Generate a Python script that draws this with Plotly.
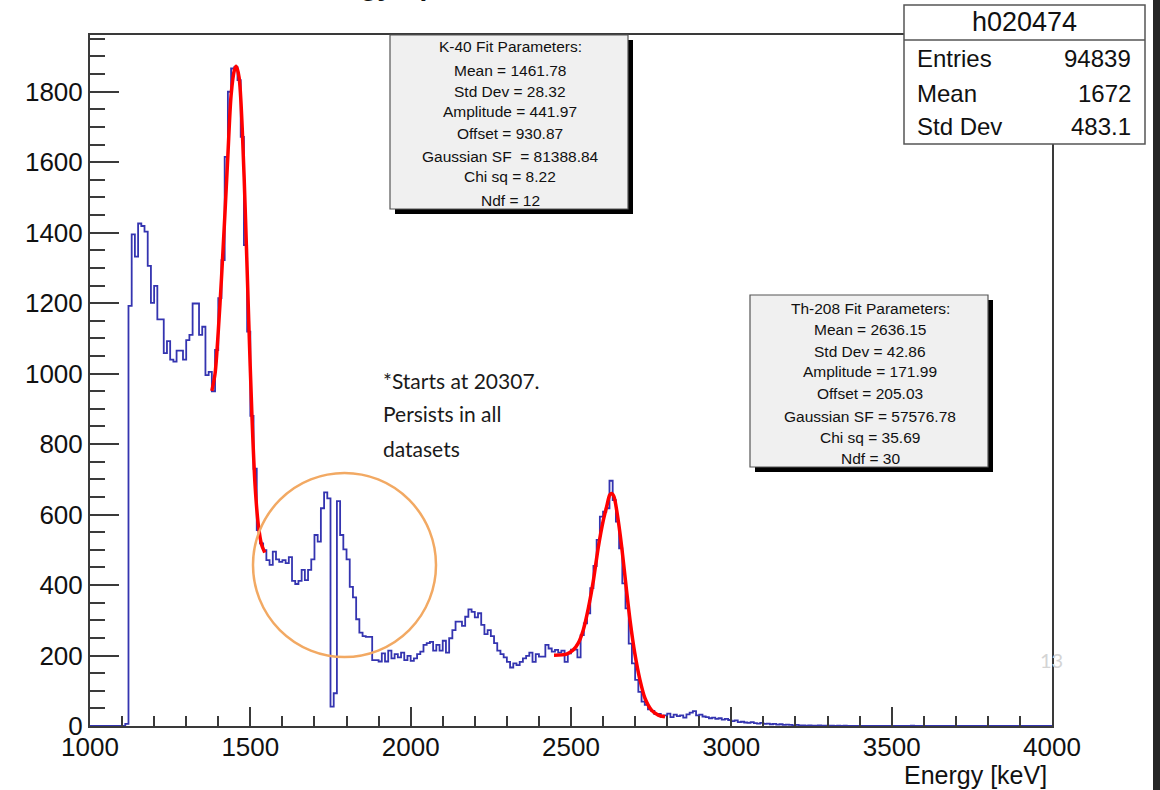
import plotly.graph_objects as go

# ---------------- data ----------------
BIN_START = 1000   # keV
BIN_WIDTH = 10     # keV

counts_1000_1490 = [0, 0, 0, 0, 0, 0, 0, 0, 0, 0, 0, 6,
                    1192, 1395, 1332, 1426, 1419, 1403, 1306, 1201, 1249, 1154,
                    1154, 1058, 1092, 1040, 1034, 1065, 1065, 1040, 1095, 1110,
                    1199, 1199, 1110, 1133, 996, 1005, 950, 1067, 1214, 1322,
                    1615, 1800, 1866, 1870, 1833, 1672, 1365, 1119]
counts_1500_1990 = [880, 730, 556, 518, 499, 471, 457, 495, 473, 466,
                    471, 462, 479, 412, 403, 412, 443, 414, 443, 473,
                    542, 523, 618, 663, 646, 55, 93, 638, 542, 501,
                    473, 395, 365, 303, 265, 255, 253, 253, 187, 187,
                    183, 206, 183, 214, 192, 204, 195, 208, 187, 199]
counts_2000_2490 = [185, 192, 204, 211, 230, 235, 239, 214, 230, 214,
                    242, 208, 249, 272, 296, 296, 284, 310, 331, 324,
                    308, 320, 287, 261, 272, 255, 235, 214, 204, 195,
                    182, 166, 178, 173, 182, 192, 199, 208, 182, 204,
                    197, 197, 230, 220, 211, 216, 208, 214, 182, 206]
counts_2500_2990 = [217, 217, 195, 258, 291, 320, 391, 454, 528, 594,
                    608, 618, 696, 641, 580, 504, 405, 334, 234, 178,
                    131, 97, 69, 60, 47, 43, 34, 34, 26, 30,
                    35, 25, 32, 28, 30, 24, 33, 38, 42, 30,
                    32, 27, 25, 22, 24, 20, 22, 18, 20, 17]
counts_3000_3490 = [14, 16, 11, 12, 10, 9, 11, 8, 7, 9,
                    6, 7, 5, 6, 4, 5, 3, 4, 3, 2,
                    3, 2, 2, 1, 2, 1, 1, 2, 1, 1,
                    1, 1, 0, 1, 0, 1, 0, 0, 0, 0,
                    0, 0, 0, 0, 0, 0, 0, 0, 0, 0]
counts_3500_3990 = [0, 0, 0, 0, 0, 0, 1, 0, 0, 0,
                    0, 0, 0, 0, 0, 0, 0, 0, 0, 0,
                    0, 0, 0, 0, 0, 0, 0, 0, 0, 0,
                    0, 0, 0, 0, 0, 0, 0, 0, 0, 0,
                    0, 0, 0, 0, 0, 0, 0, 0, 0, 0]

# fit curves
k40_fit_x = [1380, 1390, 1400, 1410, 1420, 1430, 1440, 1450, 1456, 1465,
             1475, 1485, 1495, 1505, 1515, 1525, 1535, 1545]
k40_fit_y = [951, 1000, 1120, 1270, 1440, 1620, 1790, 1860, 1872, 1840,
             1690, 1440, 1150, 880, 680, 570, 515, 492]
th208_fit_x = [2447, 2486, 2507, 2523, 2538, 2554, 2570, 2585, 2601, 2611,
               2621, 2627, 2634, 2644, 2658, 2673, 2684, 2699, 2715, 2731,
               2751, 2772, 2793]
th208_fit_y = [201, 204, 216, 236, 272, 334, 414, 507, 585, 622,
               656, 660, 651, 603, 509, 386, 301, 206, 131, 78,
               45, 31, 26]

stats_title = "h020474"
stats_rows = [("Entries", "94839"), ("Mean", "1672"), ("Std Dev", "483.1")]
k40_lines = ["K-40 Fit Parameters:", "Mean = 1461.78", "Std Dev = 28.32",
             "Amplitude = 441.97", "Offset = 930.87", "Gaussian SF  = 81388.84",
             "Chi sq = 8.22", "Ndf = 12"]
th_lines = ["Th-208 Fit Parameters:", "Mean = 2636.15", "Std Dev = 42.86",
            "Amplitude = 171.99", "Offset = 205.03", "Gaussian SF = 57576.78",
            "Chi sq = 35.69", "Ndf = 30"]
note_lines = ["*Starts at 20307.", "Persists in all", "datasets"]

X_RANGE = [1000, 4000]
Y_RANGE = [0, 1961]

# ---------------- build ----------------
counts = (counts_1000_1490 + counts_1500_1990 + counts_2000_2490 +
          counts_2500_2990 + counts_3000_3490 + counts_3500_3990)
edges = [BIN_START + i * BIN_WIDTH for i in range(len(counts) + 1)]
step_y = counts + [counts[-1]]

W, H = 1160, 790
L, R, T, B = 90, 1052, 35, 726


def px(x):
    return (x - L) / (R - L)


def py(y):
    return (B - y) / (B - T)


FONT = "Liberation Sans, Arial, sans-serif"
AX = "#3a3a3a"

fig = go.Figure()
fig.add_trace(go.Scatter(x=edges, y=step_y, mode="lines", line_shape="hv",
                         line=dict(color="#3434b0", width=1.8),
                         hoverinfo="skip"))
fig.add_trace(go.Scatter(x=k40_fit_x, y=k40_fit_y, mode="lines",
                         line=dict(color="#ff0000", width=3.5, shape="spline",
                                   smoothing=0.8), hoverinfo="skip"))
fig.add_trace(go.Scatter(x=th208_fit_x, y=th208_fit_y, mode="lines",
                         line=dict(color="#ff0000", width=3.5, shape="spline",
                                   smoothing=0.8), hoverinfo="skip"))

shapes = []
annotations = []

# fit parameter boxes with ROOT style shadow


def fit_box(x0, y0, x1, y1, lines, cx, ys):
    shapes.append(dict(type="rect", xref="paper", yref="paper",
                       x0=px(x0 + 5), x1=px(x1 + 5), y0=py(y1 + 5), y1=py(y0 + 5),
                       fillcolor="#000000", line=dict(width=0), layer="above"))
    shapes.append(dict(type="rect", xref="paper", yref="paper",
                       x0=px(x0), x1=px(x1), y0=py(y1), y1=py(y0),
                       fillcolor="#f0f0f0", line=dict(color="#555555", width=1.2),
                       layer="above"))
    for t, yy in zip(lines, ys):
        annotations.append(dict(text=t, xref="paper", yref="paper", x=px(cx),
                                y=py(yy), xanchor="center", yanchor="middle",
                                showarrow=False,
                                font=dict(family=FONT, size=15.5, color="#111")))


fit_box(390, 35, 628, 209, k40_lines, 510,
        [47, 70, 91, 112, 134, 156, 177, 200])
fit_box(750, 295, 988, 467, th_lines, 870,
        [308, 329, 351, 372, 394, 416, 437, 458])

# stats box
shapes.append(dict(type="rect", xref="paper", yref="paper",
                   x0=px(904), x1=px(1145), y0=py(144), y1=py(5),
                   fillcolor="#ffffff", line=dict(color="#555555", width=1.5),
                   layer="above"))
shapes.append(dict(type="line", xref="paper", yref="paper",
                   x0=px(904), x1=px(1145), y0=py(40), y1=py(40),
                   line=dict(color="#555555", width=1.5), layer="above"))
annotations.append(dict(text=stats_title, xref="paper", yref="paper", x=px(1024),
                        y=py(22), xanchor="center", yanchor="middle", showarrow=False,
                        font=dict(family=FONT, size=27, color="#111")))
for (lab, val), yy in zip(stats_rows, [58, 93, 127]):
    annotations.append(dict(text=lab, xref="paper", yref="paper", x=px(915),
                            y=py(yy), xanchor="left", yanchor="middle", showarrow=False,
                            font=dict(family=FONT, size=24, color="#111")))
    annotations.append(dict(text=val, xref="paper", yref="paper", x=px(1133),
                            y=py(yy), xanchor="right", yanchor="middle", showarrow=False,
                            font=dict(family=FONT, size=24, color="#111")))

# orange circle
shapes.append(dict(type="circle", xref="paper", yref="paper",
                   x0=px(253), x1=px(436), y0=py(657), y1=py(473),
                   line=dict(color="#f2a963", width=2.5), layer="above"))

# note text
for t, yy in zip(note_lines, [380, 414, 449]):
    annotations.append(dict(text=t, xref="paper", yref="paper", x=px(381),
                            y=py(yy), xanchor="left", yanchor="middle", showarrow=False,
                            font=dict(family="Lato, Open Sans, sans-serif", size=21,
                                      color="#1a1a1a")))

# x-axis title
annotations.append(dict(text="Energy [keV]", xref="paper", yref="paper", x=px(1049),
                        y=py(775), xanchor="right", yanchor="middle", showarrow=False,
                        font=dict(family=FONT, size=25, color="#111")))

# slide page number
annotations.append(dict(text="13", xref="paper", yref="paper", x=px(1051),
                        y=py(660), xanchor="center", yanchor="middle", showarrow=False,
                        font=dict(family="Lato, sans-serif", size=20, color="#d4d4d4")))

# cut-off title at top of the screenshot (only its descenders show)
annotations.append(dict(text="<b>Energy Spectrum</b>", xref="paper", yref="paper",
                        x=px(296), y=py(3.5), xanchor="left", yanchor="bottom",
                        showarrow=False,
                        font=dict(family=FONT, size=28, color="#111")))

# dark strip at right edge of screenshot
shapes.append(dict(type="rect", xref="paper", yref="paper",
                   x0=px(1153), x1=px(1162), y0=py(792), y1=py(-2),
                   fillcolor="#262626", line=dict(width=0), layer="above"))

fig.update_layout(
    width=W, height=H,
    margin=dict(l=L, r=W - R, t=T, b=H - B),
    paper_bgcolor="white", plot_bgcolor="white",
    showlegend=False,
    shapes=shapes, annotations=annotations,
    xaxis=dict(range=X_RANGE, tick0=1000, dtick=500, ticks="inside", ticklen=19,
               tickwidth=1.5, tickcolor=AX, showline=True, linecolor=AX, linewidth=2,
               mirror=True, showgrid=False, zeroline=False, ticklabelstandoff=-3,
               tickfont=dict(family=FONT, size=26, color="#111"),
               minor=dict(dtick=100, ticks="inside", ticklen=10, tickwidth=1.5,
                          tickcolor=AX, showgrid=False)),
    yaxis=dict(range=Y_RANGE, tick0=0, dtick=200, ticks="inside", ticklen=29,
               tickwidth=1.5, tickcolor=AX, showline=True, linecolor=AX, linewidth=2,
               mirror=True, showgrid=False, zeroline=False,
               tickfont=dict(family=FONT, size=26, color="#111"),
               minor=dict(dtick=50, ticks="inside", ticklen=15, tickwidth=1.5,
                          tickcolor=AX, showgrid=False)),
)

fig.write_html("out.html")
